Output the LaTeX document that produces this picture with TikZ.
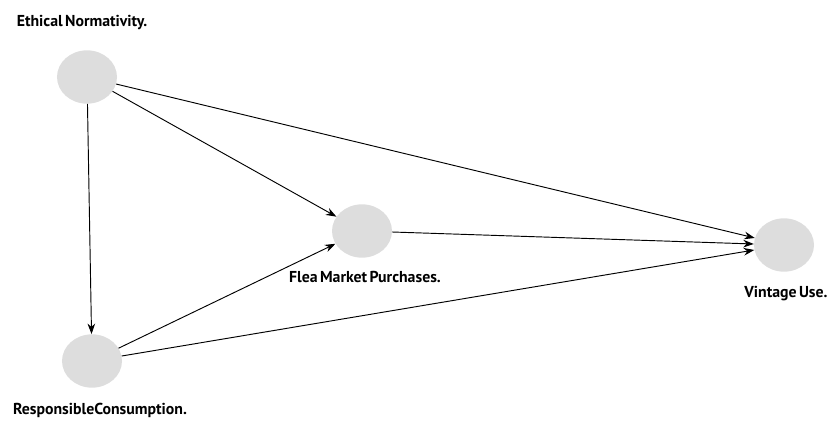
\documentclass[tikz,border=0pt]{standalone}
\usepackage{fontspec}
\setmainfont{PT Sans}
\usetikzlibrary{shapes.geometric, arrows.meta}
\definecolor{varfill}{RGB}{221, 221, 221}
\newcommand{\labfont}{\bfseries\fontsize{13.5}{15}\selectfont\spaceskip=0.15em\relax}

\begin{document}
\begin{tikzpicture}[x=0.03cm, y=-0.03cm,
		var/.style={ellipse, fill=varfill, draw=none, inner sep=0pt,
			minimum width=1.8cm, minimum height=1.6cm},
		lab/.style={font=\labfont, inner sep=0pt},
		link/.style={black, line width=0.8pt, -{Stealth[length=9pt, width=6.5pt]}}]

		\useasboundingbox (0,0) rectangle (829,423);

		% --- Variables ---
		\node[var] (ethic) at (87,77) {};
		\node[var] (flea) at (362,231) {};
		\node[var] (vint) at (784,245) {};
		\node[var] (resp) at (92,361) {};

		% --- Variable labels ---
		\node[lab] (ethiclab) at (82,22) {Ethical Normativity.};
		\node[lab] (flealab) at (365,277) {Flea Market Purchases.};
		\node[lab] (vintlab) at (786,294) {Vintage Use.};
		\node[lab] (resplab) at (100,410) {ResponsibleConsumption.};

		% --- Paths ---
		\draw[link] (ethic) -- (resp);
		\draw[link] (ethic) -- (flea);
		\draw[link] (ethic) -- (vint);
		\draw[link] (resp) -- (flea);
		\draw[link] (resp) -- (vint);
		\draw[link] (flea) -- (vint);
	\end{tikzpicture}
\end{document}
